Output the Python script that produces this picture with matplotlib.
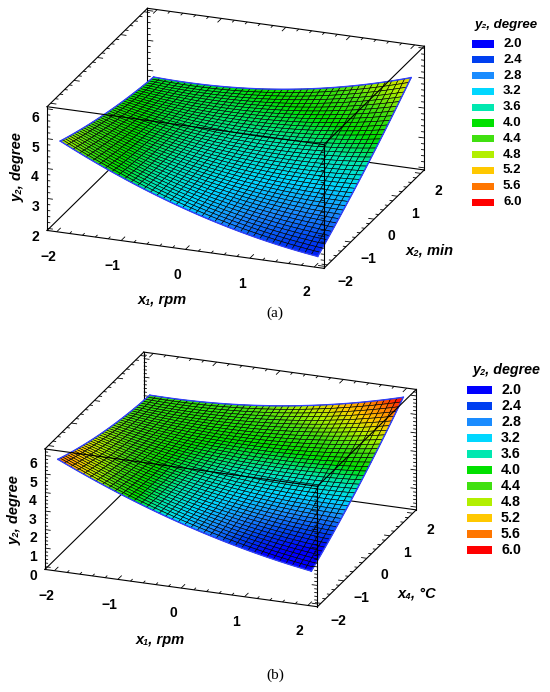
import numpy as np
import matplotlib
matplotlib.use("Agg")
import matplotlib.pyplot as plt
from matplotlib.colors import LinearSegmentedColormap
from matplotlib.patches import Rectangle
from mpl_toolkits.mplot3d.art3d import Line3DCollection

# ---- data (coded factor levels and fitted quadratic response models) ----
x_levels = [-2, -1, 0, 1, 2]
# y2 = b0 + b1*x1 + b2*xk + b12*x1*xk + b11*x1^2 + bkk*xk^2
coef_a = dict(b0=3.49, b1=-0.19, b2=0.25, b12=0.24, b11=0.10, b22=0.03)   # x1, x2
coef_b = dict(b0=3.62, b1=-0.30, b2=0.39, b12=0.37, b11=0.13, b22=0.06)   # x1, x4
zticks_a = [2, 3, 4, 5, 6]
zticks_b = [0, 1, 2, 3, 4, 5, 6]
legend_levels = [2.0, 2.4, 2.8, 3.2, 3.6, 4.0, 4.4, 4.8, 5.2, 5.6, 6.0]
legend_colors = ["#0000ff", "#0040f0", "#1a8cff", "#00d8ff", "#00e8b0", "#00e000",
                 "#40e010", "#b0f000", "#ffc800", "#ff7800", "#ff0000"]
xlabel = "x\u2081, rpm"
ylabel_a = "x\u2082, min"
ylabel_b = "x\u2084, \u00b0C"
zlabel = "y\u2082, degree"

W, H = 550, 692
cmap = LinearSegmentedColormap.from_list("y2", list(zip(np.linspace(0, 1, len(legend_colors)), legend_colors)))
FAM = ["Liberation Sans", "DejaVu Sans"]
plt.rcParams["font.family"] = FAM

fig = plt.figure(figsize=(W / 100, H / 100), dpi=100)


def fx(px):
    return px / W


def fy(py):
    return 1 - py / H


def model(c, x1, x2):
    return (c["b0"] + c["b1"] * x1 + c["b2"] * x2 + c["b12"] * x1 * x2
            + c["b11"] * x1 ** 2 + c["b22"] * x2 ** 2)


def legend(title_xy, px0, pw, ph, y0, dy, tx, fs):
    fig.text(fx(title_xy[0]), fy(title_xy[1]), zlabel, ha="center", va="center",
             fontsize=fs, fontweight="bold", fontstyle="italic", family=FAM)
    for i, v in enumerate(legend_levels):
        yc = y0 + i * dy
        fig.patches.append(Rectangle((fx(px0), fy(yc + ph / 2)), pw / W, ph / H,
                                     transform=fig.transFigure, facecolor=cmap((v - 2) / 4),
                                     edgecolor="none"))
        fig.text(fx(tx), fy(yc), f"{v:.1f}", ha="left", va="center", fontsize=fs,
                 fontweight="bold", family=FAM)


def edge_ticks(ax, along, vals, fixed, inward, zorder):
    """Mathematica-style tick marks on a box edge. along: axis index running
    along the edge; fixed: dict of the other two coordinates; inward: (axis, length)."""
    segs = []
    for v in vals:
        is_major = abs(v - round(v)) < 1e-6
        p = [0.0, 0.0, 0.0]
        p[along] = v
        for k, val in fixed.items():
            p[k] = val
        q = list(p)
        q[inward[0]] += inward[1] * (1.0 if is_major else 0.55)
        segs.append([p, q])
    ax.add_collection3d(Line3DCollection(segs, colors="k", linewidths=0.6, zorder=zorder))


def panel(center, side, zasp, coef, zlim, zticks, ylab, labpos, tag, tag_y):
    cx, cy = center
    rect = [fx(cx - side / 2), fy(cy + side / 2), side / W, side / H]
    ax = fig.add_axes(rect, projection="3d", computed_zorder=False)
    ax.set_facecolor("none")
    ax.set_proj_type("ortho")
    ax.view_init(elev=21.5, azim=-69.5)
    ax.set_box_aspect((1, 0.97, zasp), zoom=1.0)
    n = 41
    g = np.linspace(min(x_levels), max(x_levels), n)
    X1, X2 = np.meshgrid(g, g)
    Z = model(coef, X1, X2)
    xl = (-2.15, 2.15)
    ax.set_xlim(xl); ax.set_ylim(xl); ax.set_zlim(zlim)
    x0, x1_ = xl; y0, y1 = xl; z0, z1 = zlim
    back = [((x0, x0), (y1, y1), (z0, z1)), ((x0, x0), (y0, y1), (z0, z0)),
            ((x0, x1_), (y1, y1), (z0, z0))]
    front = [((x0, x1_), (y0, y0), (z0, z0)), ((x0, x1_), (y0, y0), (z1, z1)),
             ((x0, x0), (y0, y0), (z0, z1)), ((x1_, x1_), (y0, y0), (z0, z1)),
             ((x1_, x1_), (y0, y1), (z0, z0)), ((x1_, x1_), (y0, y1), (z1, z1)),
             ((x1_, x1_), (y1, y1), (z0, z1)), ((x0, x0), (y0, y1), (z1, z1)),
             ((x0, x1_), (y1, y1), (z1, z1))]
    for e in back:
        ax.plot(*e, color="k", lw=0.8, zorder=1)
    # tick marks on the box edges
    hv = np.round(np.arange(-2.0, 2.0001, 0.2), 6)
    zv = np.round(np.arange(np.ceil(zlim[0] / 0.2) * 0.2, zlim[1] + 1e-6, 0.2), 6)
    lx, ly = 0.09, 0.17
    edge_ticks(ax, 2, zv, {0: x0, 1: y1}, (0, lx), 1)
    ax.plot_surface(X1, X2, Z, cmap=cmap, vmin=2, vmax=6, edgecolor="k",
                    linewidth=0.45, rcount=n, ccount=n, antialiased=True, zorder=2)
    for xs, ys in [(g, np.full(n, g[0])), (g, np.full(n, g[-1])),
                   (np.full(n, g[0]), g), (np.full(n, g[-1]), g)]:
        ax.plot(xs, ys, model(coef, xs, ys), color="#3040ff", lw=1.0, zorder=3)
    for e in front:
        ax.plot(*e, color="k", lw=0.8, zorder=4)
    edge_ticks(ax, 2, zv, {0: x0, 1: y0}, (0, lx), 4)
    edge_ticks(ax, 2, zv, {0: x1_, 1: y0}, (0, -lx), 4)
    edge_ticks(ax, 2, zv, {0: x1_, 1: y1}, (0, -lx), 4)
    edge_ticks(ax, 0, hv, {1: y0, 2: z0}, (1, ly), 4)
    edge_ticks(ax, 0, hv, {1: y1, 2: z1}, (1, -ly), 4)
    edge_ticks(ax, 1, hv, {0: x1_, 2: z0}, (0, -lx), 4)
    edge_ticks(ax, 1, hv, {0: x0, 2: z1}, (0, lx), 4)
    for a in (ax.xaxis, ax.yaxis, ax.zaxis):
        a.set_pane_color((1, 1, 1, 0))
        a.line.set_color((0, 0, 0, 0))
        a._axinfo["grid"]["linewidth"] = 0
        a._axinfo["tick"]["inward_factor"] = 0.0
        a._axinfo["tick"]["outward_factor"] = 0.0
        a._axinfo["tick"]["linewidth"] = {True: 0.0, False: 0.0}
    ax.zaxis.set_ticks_position("lower")
    ax.grid(False)
    ax.set_xticks(x_levels); ax.set_yticks(x_levels); ax.set_zticks(zticks)
    ax.set_xticklabels([f"{v}".replace("-", "\u2212") for v in x_levels])
    ax.set_yticklabels([f"{v}".replace("-", "\u2212") for v in x_levels])
    ax.set_zticklabels([str(v) for v in zticks])
    ax.tick_params(labelsize=10)
    ax.xaxis.set_tick_params(pad=5)
    ax.yaxis.set_tick_params(pad=2)
    ax.zaxis.set_tick_params(pad=-3)
    for lab in ax.get_xticklabels() + ax.get_yticklabels() + ax.get_zticklabels():
        lab.set_fontweight("bold")
    kw = dict(fontsize=10.5, fontweight="bold", fontstyle="italic", family=FAM)
    (xlx, xly), (ylx, yly), (zlx, zly) = labpos
    fig.text(fx(xlx), fy(xly), xlabel, ha="center", va="center", **kw)
    fig.text(fx(ylx), fy(yly), ylab, ha="center", va="center", **kw)
    fig.text(fx(zlx), fy(zly), zlabel, ha="center", va="center", rotation=90, **kw)
    fig.text(0.5, fy(tag_y), tag, ha="center", va="center", fontsize=11,
             family=["Liberation Serif", "DejaVu Serif"])
    return ax


panel((230, 144), 420, 0.45, coef_a, (1.93, 6.07), zticks_a, ylabel_a,
      [(162, 300), (430, 250), (18, 167)], "(a)", 313)
panel((225, 485), 413, 0.445, coef_b, (-0.15, 6.35), zticks_b, ylabel_b,
      [(160, 640), (417, 593), (15, 510)], "(b)", 675)
legend((506, 25), 472, 22, 7, 44, 15.8, 503, 9.5)
legend((507, 370), 467, 25, 8, 390, 16.0, 501, 10.3)

fig.savefig("out.png", dpi=100)
